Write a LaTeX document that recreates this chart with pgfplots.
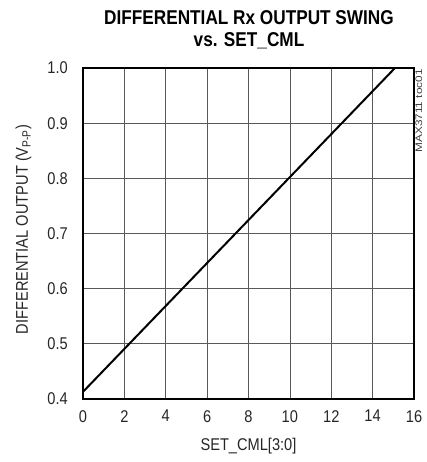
\documentclass[border=0pt]{standalone}
\usepackage{fontspec}
\setmainfont{Liberation Sans}[FakeStretch=0.86]
\usepackage{graphicx}
\usepackage{pgfplots}
\pgfplotsset{compat=1.18}
\begin{document}
\fontsize{17bp}{20bp}\selectfont
\begin{tikzpicture}
\path[use as bounding box] (-83bp,-63bp) rectangle (344bp,399bp);
\begin{axis}[
    scale only axis,
    anchor=south west,
    at={(0,0)},
    width=331bp,
    height=331bp,
    xmin=0, xmax=16,
    ymin=0.4, ymax=1.0,
    xtick={0,2,...,16},
    ytick={0.4,0.5,...,1.0},
    /pgf/number format/assume math mode=true,
    yticklabel style={/pgf/number format/fixed,/pgf/number format/fixed zerofill,/pgf/number format/precision=1,
        anchor=east, inner sep=0pt, xshift=-15bp},
    xticklabel style={anchor=north, inner sep=0pt, yshift=-11bp},
    tick label style={font=\fontsize{17bp}{20bp}\selectfont, text=black!85},
    major tick length=0pt,
    grid=major,
    grid style={black!65, line width=0.7bp},
    axis line style={line width=2bp},
    clip=true,
]
\addplot[black, line width=2bp] coordinates {(0,0.413) (15.08,1.0)};
\end{axis}
% title
\node[anchor=base, font=\bfseries\fontsize{20bp}{22bp}\selectfont] at (166bp,374bp) {DIFFERENTIAL Rx OUTPUT SWING};
\node[anchor=base, font=\bfseries\fontsize{20bp}{22bp}\selectfont] at (166bp,352bp) {vs. SET\_CML};
% axis labels
\node[anchor=base, text=black!85] at (165.5bp,-51bp) {SET\_CML[3:0]};
\node[anchor=base, rotate=90, text=black!85] at (-55bp,169.5bp) {DIFFERENTIAL OUTPUT (V\textsubscript{P-P})};
% figure code
\node[anchor=base east, rotate=90, inner sep=0pt, font=\fontsize{9.5bp}{10bp}\selectfont, text=black!75] at (339bp,330bp) {\scalebox{1.45}[1]{MAX3711 toc01}};
\end{tikzpicture}
\end{document}
